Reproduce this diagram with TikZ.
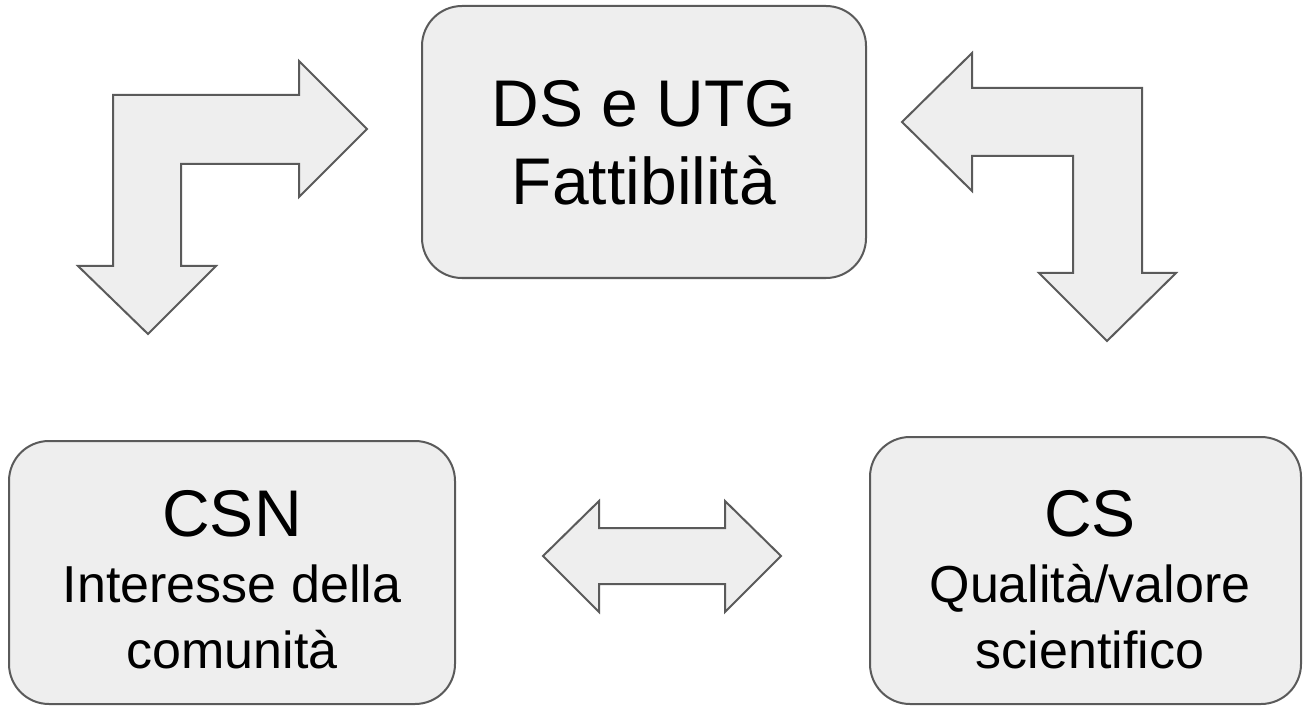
\documentclass[tikz,border=0pt]{standalone}
\usepackage{fontspec}
\setmainfont{Liberation Sans}
\definecolor{boxfill}{HTML}{EEEEEE}
\definecolor{boxline}{HTML}{5A5A5A}
\tikzset{
  panel/.style={draw=boxline, fill=boxfill, line width=2pt, rounded corners=40pt},
  blockarrow/.style={draw=boxline, fill=boxfill, line width=2pt, line join=miter},
  bigtxt/.style={inner sep=0pt, anchor=base, font=\fontsize{66}{78}\selectfont},
  smalltxt/.style={inner sep=0pt, anchor=base, font=\fontsize{52}{66}\selectfont}
}
\begin{document}
\begin{tikzpicture}[x=1pt,y=-1pt]
\useasboundingbox (0,0) rectangle (1303,711);
% boxes
\draw[panel] (422,6) rectangle (866,278);
\draw[panel] (9,441) rectangle (455,704);
\draw[panel] (870,437) rectangle (1301,704);
% top box text
\node[bigtxt] (t1) at (644,127) {DS e UTG};
\node[bigtxt] (t2) at (644,205) {Fattibilità};
% left box text
\node[bigtxt] (l1) at (232,536) {CSN};
\node[smalltxt] (l2) at (232,602) {Interesse della};
\node[smalltxt] (l3) at (232,668) {comunità};
% right box text
\node[bigtxt] (r1) at (1090,536) {CS};
\node[smalltxt] (r2) at (1090,602) {Qualità/valore};
\node[smalltxt] (r3) at (1090,668) {scientifico};
% bent arrow left
\draw[blockarrow] (113,95) -- (299,95) -- (299,61) -- (367,129) -- (299,197) -- (299,164)
  -- (181,164) -- (181,266) -- (216,266) -- (148,334) -- (78,266) -- (113,266) -- cycle;
% bent arrow right
\draw[blockarrow] (902,122) -- (972,53) -- (972,88) -- (1142,88) -- (1142,273) -- (1176,273)
  -- (1107,341) -- (1039,273) -- (1073,273) -- (1073,156) -- (972,156) -- (972,191) -- cycle;
% double arrow
\draw[blockarrow] (543,556) -- (599,501) -- (599,528) -- (725,528) -- (725,501) -- (781,556)
  -- (725,612) -- (725,584) -- (599,584) -- (599,612) -- cycle;
\end{tikzpicture}
\end{document}
